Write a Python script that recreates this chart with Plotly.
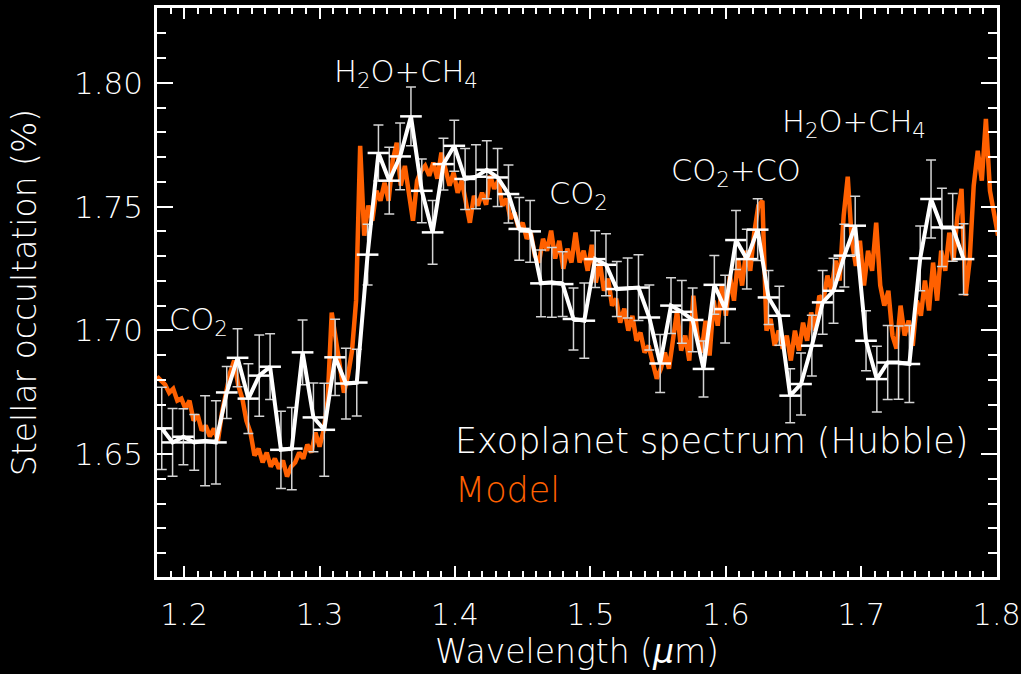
import plotly.graph_objects as go
import numpy as np

# Binned transmission spectrum (Hubble/WFC3), wavelength in micron, depth in %
wl_obs = [1.1835, 1.1915, 1.1995, 1.2075, 1.2155, 1.2235, 1.2315, 1.2395, 1.2475, 1.2555,
          1.2635, 1.2715, 1.2795, 1.2875, 1.2955, 1.3035, 1.3115, 1.3195, 1.3275, 1.3355,
          1.3435, 1.3515, 1.3595, 1.3675, 1.3755, 1.3835, 1.3915, 1.3995, 1.4075, 1.4155,
          1.4235, 1.4315, 1.4395, 1.4475, 1.4555, 1.4635, 1.4715, 1.4795, 1.4875, 1.4955,
          1.5035, 1.5115, 1.5195, 1.5275, 1.5355, 1.5435, 1.5515, 1.5595, 1.5675, 1.5755,
          1.5835, 1.5915, 1.5995, 1.6075, 1.6155, 1.6235, 1.6315, 1.6395, 1.6475, 1.6555,
          1.6635, 1.6715, 1.6795, 1.6875, 1.6955, 1.7035, 1.7115, 1.7195, 1.7275, 1.7355,
          1.7435, 1.7515, 1.7595, 1.7675, 1.7755]
depth_obs = [1.6604, 1.6547, 1.6570, 1.6547, 1.6554, 1.6547, 1.6749, 1.6889, 1.6724, 1.6817,
             1.6853, 1.6517, 1.6522, 1.6911, 1.6648, 1.6598, 1.6891, 1.6785, 1.6789, 1.7306,
             1.7717, 1.7605, 1.7703, 1.7865, 1.7564, 1.7396, 1.7672, 1.7746, 1.7612, 1.7621,
             1.7649, 1.7618, 1.7551, 1.7410, 1.7400, 1.7190, 1.7194, 1.7187, 1.7046, 1.7039,
             1.7288, 1.7265, 1.7167, 1.7171, 1.7173, 1.7052, 1.6866, 1.7100, 1.7075, 1.7042,
             1.6844, 1.7184, 1.7086, 1.7365, 1.7288, 1.7407, 1.7133, 1.7059, 1.6736, 1.6783,
             1.6938, 1.7113, 1.7160, 1.7302, 1.7423, 1.6958, 1.6803, 1.6870, 1.6870, 1.6864,
             1.7291, 1.7531, 1.7416, 1.7416, 1.7288]
depth_err = [0.0166, 0.0137, 0.0113, 0.0113, 0.0182, 0.0168, 0.0105, 0.0117, 0.0141, 0.0164,
             0.0133, 0.0156, 0.0166, 0.0131, 0.0139, 0.0188, 0.0154, 0.0143, 0.0135, 0.0123,
             0.0113, 0.0135, 0.0135, 0.0119, 0.0129, 0.0129, 0.0105, 0.0103, 0.0123, 0.0129,
             0.0117, 0.0117, 0.0117, 0.0127, 0.0125, 0.0135, 0.0141, 0.0131, 0.0125, 0.0152,
             0.0115, 0.0125, 0.0111, 0.0121, 0.0133, 0.0131, 0.0117, 0.0113, 0.0127, 0.0129,
             0.0113, 0.0119, 0.0137, 0.0119, 0.0121, 0.0125, 0.0109, 0.0119, 0.0109, 0.0125,
             0.0123, 0.0129, 0.0131, 0.0127, 0.0119, 0.0121, 0.0133, 0.0150, 0.0148, 0.0156,
             0.0131, 0.0158, 0.0158, 0.0137, 0.0143]
bin_halfwidth = 0.008

# Atmospheric model sampled every 0.003 micron from 1.180
model_start, model_step = 1.180, 0.003
depth_model = [
    1.6813, 1.6797, 1.6781, 1.6748, 1.6764, 1.6716, 1.6724, 1.6684, 1.6716, 1.6635,
    1.6659, 1.6595, 1.6615, 1.6571, 1.6603, 1.6554, 1.6668, 1.6748, 1.6829, 1.6878,
    1.6777, 1.6724, 1.6635, 1.6587, 1.6494, 1.6522, 1.6466, 1.6506, 1.6449, 1.6482,
    1.6441, 1.6474, 1.6409, 1.6449, 1.6466, 1.6506, 1.6482, 1.6538, 1.6506, 1.6587,
    1.6530, 1.6595, 1.6716, 1.7072, 1.6958, 1.6837, 1.6748, 1.6817, 1.6918, 1.7120,
    1.7746, 1.7383, 1.7504, 1.7443, 1.7564, 1.7524, 1.7597, 1.7524, 1.7686, 1.7758,
    1.7585, 1.7665, 1.7544, 1.7443, 1.7605, 1.7645, 1.7665, 1.7625, 1.7678, 1.7613,
    1.7718, 1.7645, 1.7585, 1.7637, 1.7556, 1.7605, 1.7524, 1.7435, 1.7544, 1.7504,
    1.7556, 1.7508, 1.7625, 1.7572, 1.7605, 1.7504, 1.7532, 1.7451, 1.7476, 1.7411,
    1.7435, 1.7370, 1.7395, 1.7302, 1.7274, 1.7370, 1.7322, 1.7403, 1.7290, 1.7362,
    1.7249, 1.7330, 1.7274, 1.7395, 1.7274, 1.7322, 1.7241, 1.7346, 1.7193, 1.7274,
    1.7160, 1.7209, 1.7100, 1.7128, 1.7031, 1.7088, 1.6999, 1.7059, 1.6958, 1.6991,
    1.6910, 1.6938, 1.6870, 1.6805, 1.6845, 1.6910, 1.6845, 1.6958, 1.7080, 1.6918,
    1.6979, 1.6878, 1.7140, 1.6979, 1.6910, 1.7039, 1.6898, 1.7120, 1.7019, 1.7181,
    1.7059, 1.7221, 1.7120, 1.7290, 1.7181, 1.7322, 1.7241, 1.7395, 1.7504, 1.7524,
    1.6999, 1.7047, 1.6938, 1.6999, 1.6926, 1.6979, 1.6878, 1.6999, 1.6918, 1.7031,
    1.6958, 1.7072, 1.6999, 1.7140, 1.7120, 1.7221, 1.7160, 1.7282, 1.7201, 1.7463,
    1.7621, 1.7362, 1.7261, 1.7362, 1.7181, 1.7322, 1.7241, 1.7435, 1.7181, 1.7100,
    1.7160, 1.6979, 1.6926, 1.7100, 1.6979, 1.7039, 1.6938, 1.7120, 1.7059, 1.7201,
    1.7080, 1.7274, 1.7120, 1.7322, 1.7241, 1.7395, 1.7282, 1.7463, 1.7572, 1.7140,
    1.7282, 1.7585, 1.7726, 1.7605, 1.7855, 1.7564, 1.7484, 1.7383]
wl_model = np.round(model_start + model_step * np.arange(len(depth_model)), 4)

# Molecular feature labels: (text, wavelength, depth)
features = [
    ("CO<sub>2</sub>", 1.2110, 1.7035),
    ("H<sub>2</sub>O+CH<sub>4</sub>", 1.3641, 1.8040),
    ("CO<sub>2</sub>", 1.4911, 1.7547),
    ("CO<sub>2</sub>+CO", 1.6073, 1.7640),
    ("H<sub>2</sub>O+CH<sub>4</sub>", 1.6948, 1.7838),
]

WHITE = "#ffffff"
ORANGE = "#ff6000"
FONT = "DejaVu Sans"
WEIGHT = 200

fig = go.Figure()

fig.add_trace(go.Scatter(
    x=wl_model, y=depth_model, mode="lines",
    line=dict(color=ORANGE, width=4.5),
    hoverinfo="skip", showlegend=False,
))

fig.add_trace(go.Scatter(
    x=wl_obs, y=depth_obs, mode="lines",
    line=dict(color=WHITE, width=4),
    error_y=dict(type="data", array=depth_err, color="#d4d4d4", thickness=1.5, width=5),
    error_x=dict(type="constant", value=bin_halfwidth, color=WHITE, thickness=2.5, width=0),
    showlegend=False,
))

for text, x, y in features:
    fig.add_annotation(x=x, y=y, text=text, showarrow=False,
                       font=dict(family=FONT, size=30.5, color=WHITE, weight=WEIGHT))

fig.add_annotation(x=1.3985, y=1.6553, text="Exoplanet spectrum (Hubble)", showarrow=False,
                   xanchor="left", font=dict(family=FONT, size=35, color=WHITE, weight=WEIGHT))
fig.add_annotation(x=1.3985, y=1.6355, text="Model", showarrow=False,
                   xanchor="left", font=dict(family=FONT, size=35, color=ORANGE, weight=WEIGHT))

axis_common = dict(
    showline=True, linecolor=WHITE, linewidth=2.5, mirror="allticks",
    ticks="inside", tickcolor=WHITE, tickwidth=2,
    showgrid=False, zeroline=False, ticklabeloverflow="allow",
)

fig.update_xaxes(
    **axis_common, range=[1.18, 1.8002], tick0=1.2, dtick=0.1, ticklen=11,
    tickformat=".1f", ticklabelstandoff=9, automargin=False,
    tickfont=dict(family=FONT, size=30, color=WHITE, weight=WEIGHT),
    minor=dict(dtick=0.01, tick0=1.2, ticks="inside", ticklen=6, tickcolor=WHITE, tickwidth=2),
    title=dict(text="Wavelength (<i>µ</i>m)", standoff=7,
               font=dict(family=FONT, size=33, color=WHITE, weight=WEIGHT)),
)
fig.update_yaxes(
    **axis_common, range=[1.6003, 1.8303], tick0=1.65, dtick=0.05, ticklen=16,
    tickformat=".2f", ticklabelstandoff=5,
    tickfont=dict(family=FONT, size=31, color=WHITE, weight=WEIGHT),
    minor=dict(dtick=0.01, tick0=1.6, ticks="inside", ticklen=9, tickcolor=WHITE, tickwidth=2),
    title=dict(text="Stellar occultation (%)", standoff=28,
               font=dict(family=FONT, size=33, color=WHITE, weight=WEIGHT)),
)

fig.update_layout(
    width=1021, height=674,
    margin=dict(l=157, r=24, t=8, b=97),
    paper_bgcolor="black", plot_bgcolor="black",
    showlegend=False,
)

fig.write_html("out.html")
